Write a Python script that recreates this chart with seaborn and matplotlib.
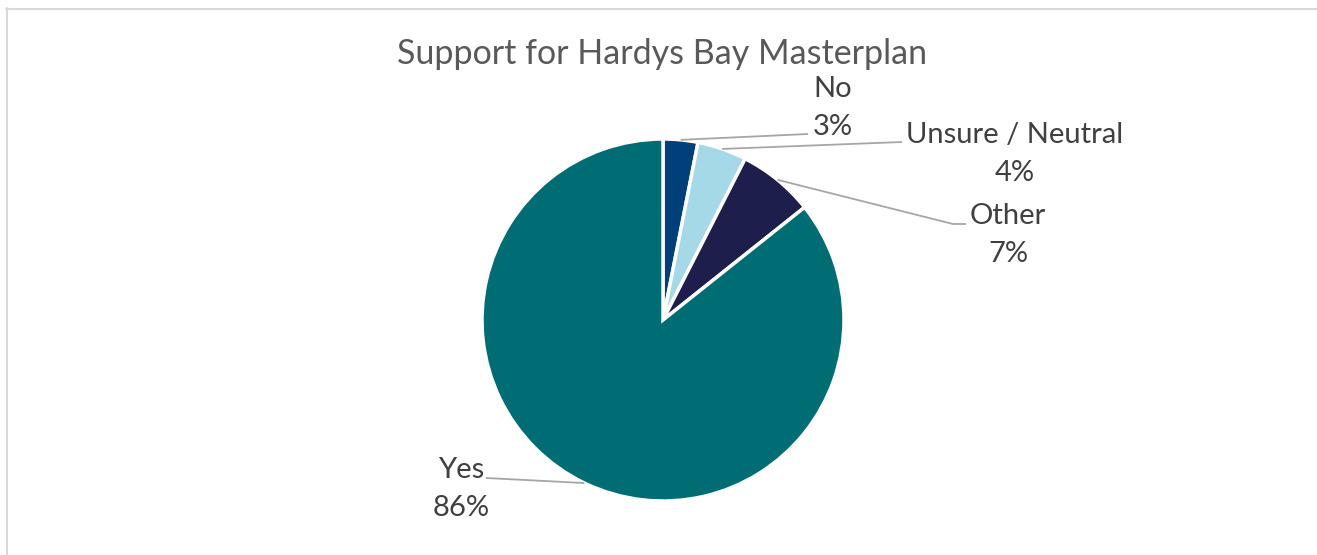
import numpy as np
import matplotlib
matplotlib.use("Agg")
import matplotlib.pyplot as plt
import seaborn as sns

# data
labels = ["No", "Unsure / Neutral", "Other", "Yes"]
values = [3.1, 4.4, 6.8, 85.7]
colors = ["#00407A", "#A6D9E7", "#1E1E4C", "#006D75"]
title = "Support for Hardys Bay Masterplan"

sns.set_theme(style="white")
plt.rcParams["font.family"] = ["Lato", "DejaVu Sans"]

W, H = 1317, 555
fig = plt.figure(figsize=(W / 100, H / 100), dpi=100)

# pie centre / radius in pixels
cx, cy, r = 663, 320, 181
ax = fig.add_axes([(cx - r) / W, (H - cy - r) / H, 2 * r / W, 2 * r / H])

wedges, _ = ax.pie(values, colors=colors, startangle=90, counterclock=False,
                   radius=1, wedgeprops=dict(edgecolor="white", linewidth=2.5))
ax.set_xlim(-1, 1)
ax.set_ylim(-1, 1)
ax.set_aspect("equal")
ax.axis("off")

def px(x, y):
    return (x - cx) / r, (cy - y) / r

# label centre and leader end (pixels), plus optional elbow
label_pos = [(833, 108), (1015, 154), (1008, 235), (461, 489)]
line_end = [[(808, 134)], [(902, 142)], [(953, 224), (966, 224)], [(486, 478)]]

total = sum(values)
for w, lab, v, lp, le in zip(wedges, labels, values, label_pos, line_end):
    ang = np.deg2rad((w.theta1 + w.theta2) / 2)
    pts = [(np.cos(ang), np.sin(ang))] + [px(*p) for p in le]
    xs, ys = zip(*pts)
    ax.plot(xs, ys, color="#A6A6A6", lw=1.3, clip_on=False, solid_capstyle="butt")
    tx, ty = px(*lp)
    ax.text(tx, ty, f"{lab}\n{v / total * 100:.0f}%", ha="center", va="center",
            fontsize=21, color="#404040", linespacing=1.55)

fig.text(662 / W, 1 - 54 / H, title, ha="center", va="center",
         fontsize=24.5, color="#595959")

# chart frame
fig.add_artist(plt.Line2D([6.5 / W, 6.5 / W], [0, 1 - 8 / H], color="#D9D9D9", lw=1.5))
fig.add_artist(plt.Line2D([6 / W, 1], [1 - 8.5 / H, 1 - 8.5 / H], color="#D9D9D9", lw=1.5))

fig.savefig("out.png", dpi=100, facecolor="white")
